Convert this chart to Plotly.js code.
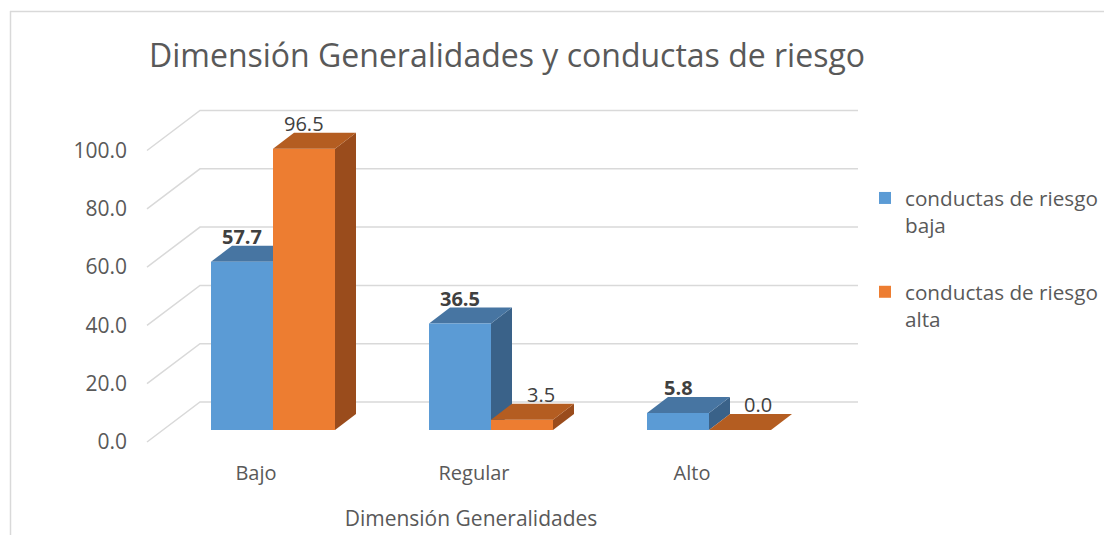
<!DOCTYPE html>
<html>
<head>
<meta charset="utf-8">
<script src="https://cdn.plot.ly/plotly-3.0.1.min.js"></script>
<style>html,body{margin:0;padding:0;background:#fff;}#chart{width:1104px;height:535px;}</style>
</head>
<body>
<div id="chart"></div>
<script>
// ---- data ----
const CATEGORIES = ['Bajo', 'Regular', 'Alto'];
const SERIES_NAMES = ['conductas de riesgo<br>baja', 'conductas de riesgo<br>alta'];
const BAJA = [57.7, 36.5, 5.8];
const ALTA = [96.5, 3.5, 0.0];
const Y_TICKS = [0, 20, 40, 60, 80, 100];
const TITLE = 'Dimensión Generalidades y conductas de riesgo';
const X_TITLE = 'Dimensión Generalidades';

// ---- layout constants (pixels) ----
const W = 1104, H = 535;
const ML = 147, MR = 0, MT = 0, MB = 90;
const plotW = W - ML - MR, plotH = H - MT - MB;
const PX_PER_CAT = 218, PX_PER_UNIT = 2.915;
const ZERO_PX = 430;           // pixel y of value 0 on bar front plane
const FIRST_CAT_PX = 273;      // pixel x of first group centre
const DOMAIN_W = 648;
const BARGAP = 94 / 218;
const DEPTH_X = 21, DEPTH_Y = 16;      // bar depth in px
const FRONT_DY = 12, BACK_DY = 28;     // gridline front/back offsets in px
const GRID_FRONT_X = 147, GRID_BACK_X = 200, GRID_RIGHT_X = 858;
const ALTA_LABEL_XSHIFT = [0, 19, 18]; // px, label placement like the original

const yMin = -(MT + plotH - ZERO_PX) / PX_PER_UNIT;
const yMax = yMin + plotH / PX_PER_UNIT;
const xMin = -(FIRST_CAT_PX - ML) / PX_PER_CAT;
const xMax = xMin + DOMAIN_W / PX_PER_CAT;
const barW = (1 - BARGAP) / 2;
const DX = DEPTH_X / PX_PER_CAT, DY = DEPTH_Y / PX_PER_UNIT;
const px2paperX = px => (px - ML) / plotW;
const px2paperY = py => 1 - (py - MT) / plotH;

const BLUE = '#5B9BD5', BLUE_TOP = '#4775A2', BLUE_SIDE = '#3A6289';
const ORANGE = '#ED7D31', ORANGE_TOP = '#B45D21', ORANGE_SIDE = '#9A4C1C';
const FONT = '"Open Sans", "Noto Sans", sans-serif';
const GREY = '#595959';

const xs = CATEGORIES.map((c, i) => i);

const traces = [
  {type: 'bar', x: xs, y: BAJA, name: SERIES_NAMES[0], legendgroup: 'a',
   marker: {color: BLUE, line: {width: 0}}, hoverinfo: 'skip'},
  {type: 'bar', x: xs, y: ALTA, name: SERIES_NAMES[1], legendgroup: 'b',
   marker: {color: ORANGE, line: {width: 0}}, hoverinfo: 'skip'}
];

const shapes = [];
// chart frame
shapes.push({type: 'line', xref: 'paper', yref: 'paper', layer: 'below',
  x0: px2paperX(10), x1: px2paperX(1104), y0: px2paperY(11.5), y1: px2paperY(11.5),
  line: {color: '#D9D9D9', width: 1.5}});
shapes.push({type: 'line', xref: 'paper', yref: 'paper', layer: 'below',
  x0: px2paperX(10.5), x1: px2paperX(10.5), y0: px2paperY(11), y1: px2paperY(535),
  line: {color: '#D9D9D9', width: 1.5}});
// 3D gridlines (left wall diagonal + back wall)
Y_TICKS.forEach(t => {
  const yf = t - FRONT_DY / PX_PER_UNIT, yb = t + BACK_DY / PX_PER_UNIT;
  shapes.push({type: 'path', xref: 'paper', yref: 'y', layer: 'below',
    path: `M${px2paperX(GRID_FRONT_X)},${yf} L${px2paperX(GRID_BACK_X)},${yb} L${px2paperX(GRID_RIGHT_X)},${yb}`,
    line: {color: '#D9D9D9', width: 1.5}});
});
// bar top & side faces
function faces(vals, offset, topCol, sideCol, layer) {
  vals.forEach((v, i) => {
    const xl = i + offset - barW / 2, xr = i + offset + barW / 2;
    shapes.push({type: 'path', xref: 'x', yref: 'y', layer: layer, fillcolor: sideCol, line: {width: 0},
      path: `M${xr},0 L${xr},${v} L${xr + DX},${v + DY} L${xr + DX},${DY} Z`});
    shapes.push({type: 'path', xref: 'x', yref: 'y', layer: layer, fillcolor: topCol, line: {width: 0},
      path: `M${xl},${v} L${xr},${v} L${xr + DX},${v + DY} L${xl + DX},${v + DY} Z`});
  });
}
faces(BAJA, -barW / 2, BLUE_TOP, BLUE_SIDE, 'below');
faces(ALTA, barW / 2, ORANGE_TOP, ORANGE_SIDE, 'above');

// data labels
const annotations = [];
BAJA.forEach((v, i) => annotations.push({x: i - barW / 2, y: v + DY, xref: 'x', yref: 'y',
  text: '<b>' + v.toFixed(1) + '</b>', showarrow: false, yanchor: 'bottom', yshift: -6,
  font: {family: FONT, size: 20, color: '#404040'}}));
ALTA.forEach((v, i) => annotations.push({x: i + barW / 2, y: v + DY, xref: 'x', yref: 'y',
  text: v.toFixed(1), showarrow: false, yanchor: 'bottom', yshift: -6, xshift: ALTA_LABEL_XSHIFT[i],
  font: {family: FONT, size: 20, color: '#404040'}}));

const layout = {
  width: W, height: H,
  margin: {l: ML, r: MR, t: MT, b: MB, autoexpand: false},
  paper_bgcolor: '#ffffff', plot_bgcolor: 'rgba(0,0,0,0)',
  font: {family: FONT, color: GREY},
  title: {text: TITLE, xref: 'container', yref: 'container', x: 507 / W, xanchor: 'center',
    y: 1 - 56 / H, yanchor: 'middle', font: {family: FONT, size: 32, color: GREY}},
  barmode: 'group', bargap: BARGAP, bargroupgap: 0,
  xaxis: {type: 'linear', domain: [0, DOMAIN_W / plotW], range: [xMin, xMax],
    tickvals: xs, ticktext: CATEGORIES, showgrid: false, zeroline: false, showline: false,
    ticks: '', ticklabelshift: -17, ticklabelstandoff: 14,
    tickfont: {family: FONT, size: 20, color: GREY},
    title: {text: X_TITLE, standoff: 26, font: {family: FONT, size: 21, color: GREY}},
    fixedrange: true, automargin: false},
  yaxis: {range: [yMin, yMax], tickvals: Y_TICKS, tickformat: '.1f',
    showgrid: false, zeroline: false, showline: false, ticks: '',
    ticklabelshift: 12, ticklabelstandoff: 19,
    tickfont: {family: FONT, size: 21, color: GREY}, fixedrange: true, automargin: false},
  showlegend: true,
  legend: {x: px2paperX(865), y: px2paperY(178), xanchor: 'left', yanchor: 'top',
    traceorder: 'grouped', tracegroupgap: 37, valign: 'top',
    font: {family: FONT, size: 20.7, color: GREY}, bgcolor: 'rgba(0,0,0,0)'},
  shapes: shapes, annotations: annotations
};

Plotly.newPlot('chart', traces, layout, {displayModeBar: false, staticPlot: true});
</script>
</body>
</html>
